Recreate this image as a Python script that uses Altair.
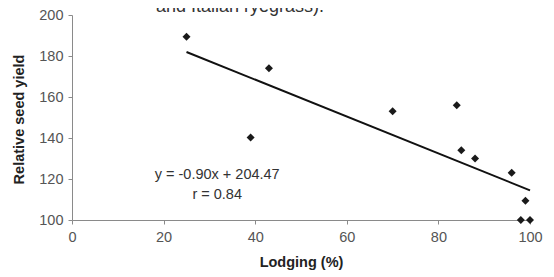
import altair as alt
import pandas as pd

# Scatter data
lodging = [25, 43, 39, 70, 84, 85, 88, 96, 99, 98, 100]
seed_yield = [189.4, 174, 140.3, 153, 156, 134, 130, 123, 109.4, 100, 100]

# Regression line: y = -0.90x + 204.47
slope = -0.90
intercept = 204.47
fit_x = [25, 100]
fit_y = [slope * v + intercept for v in fit_x]

eq_lines = ["y = -0.90x + 204.47", "r = 0.84"]
eq_x = [31.7, 31.7]
eq_y = [122, 112.2]

caption = "and Italian ryegrass)."

pts = pd.DataFrame({"x": lodging, "y": seed_yield})
fit = pd.DataFrame({"x": fit_x, "y": fit_y})
eq = pd.DataFrame({"x": eq_x, "y": eq_y, "t": eq_lines})

FONT = "Liberation Sans"

xs = alt.Scale(domain=[0, 100], nice=False, zero=False)
ys = alt.Scale(domain=[100, 200], nice=False, zero=False)

x_axis = alt.Axis(
    values=[0, 20, 40, 60, 80, 100], grid=False, tickSize=4, labelPadding=6,
    labelFlush=False, labelOverlap=False,
    domainColor="#8a8a8a", tickColor="#8a8a8a", labelColor="#555555",
    labelFont=FONT, labelFontSize=14.5, title="Lodging (%)",
    titleFont=FONT, titleFontSize=14.5, titleFontWeight="bold", titleColor="#222222",
    titleX=229, titleY=42, titleBaseline="middle", titleAlign="center",
)
y_axis = alt.Axis(
    values=[100, 120, 140, 160, 180, 200], grid=False, tickSize=4, labelPadding=5,
    labelFlush=False, labelOverlap=False,
    domainColor="#8a8a8a", tickColor="#8a8a8a", labelColor="#555555",
    labelFont=FONT, labelFontSize=14.5, title="Relative seed yield",
    titleFont=FONT, titleFontSize=14.5, titleFontWeight="bold", titleColor="#222222",
    titleX=-53, titleY=104, titleAngle=-90, titleBaseline="middle", titleAlign="center",
)

points = alt.Chart(pts).mark_point(
    shape="diamond", filled=True, size=64, color="#1a1a1a", opacity=1
).encode(
    x=alt.X("x:Q", scale=xs, axis=x_axis),
    y=alt.Y("y:Q", scale=ys, axis=y_axis),
)

line = alt.Chart(fit).mark_line(color="#111111", strokeWidth=2).encode(
    x=alt.X("x:Q", scale=xs), y=alt.Y("y:Q", scale=ys)
)

eq_text = alt.Chart(eq).mark_text(
    font=FONT, fontSize=14.5, color="#333333", align="center", baseline="middle"
).encode(
    x=alt.X("x:Q", scale=xs), y=alt.Y("y:Q", scale=ys), text="t:N"
)

cap = alt.Chart(pd.DataFrame({"t": [caption]})).mark_text(
    font=FONT, fontSize=18, color="#333333", align="center", baseline="alphabetic"
).encode(
    x=alt.value(168), y=alt.value(-3), text="t:N"
)

chart = (
    alt.layer(line, points, eq_text, cap)
    .properties(
        width=458, height=205,
        autosize=alt.AutoSizeParams(type="none"),
        padding={"left": 64, "top": 7, "right": 16, "bottom": 53},
        background="#ffffff",
    )
    .configure_view(stroke=None)
)

chart.save("out.html", embed_options={"renderer": "svg", "actions": False})
